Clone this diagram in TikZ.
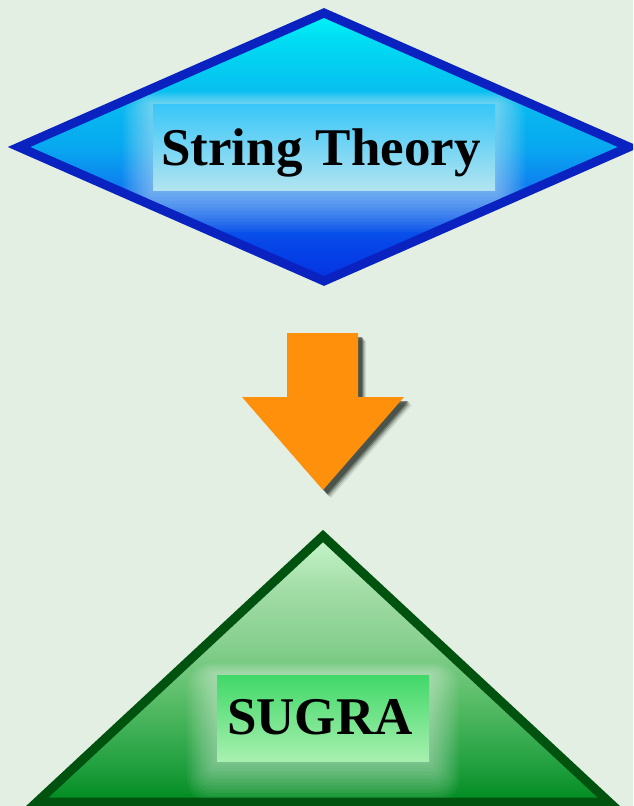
\documentclass[tikz,border=0pt]{standalone}
\usepackage{fontspec}
\setmainfont{Liberation Serif}
\usetikzlibrary{calc}
\definecolor{bg}{HTML}{E2EFE2}
\definecolor{dline}{HTML}{0A22C0}
\definecolor{tline}{HTML}{00520F}
\definecolor{arrowc}{HTML}{FF900C}
\definecolor{shadowc}{HTML}{343C34}
\definecolor{dA}{HTML}{0432E2}
\definecolor{dBc}{HTML}{0646E8}
\definecolor{dC}{HTML}{1070F0}
\definecolor{dD}{HTML}{08A8F0}
\definecolor{dE}{HTML}{08BEF0}
\definecolor{dF}{HTML}{00DCF2}
\definecolor{dG}{HTML}{00F4F8}
\definecolor{tA}{HTML}{008A20}
\definecolor{tBc}{HTML}{22A040}
\definecolor{tC}{HTML}{5CBE6A}
\definecolor{tD}{HTML}{88D090}
\definecolor{tE}{HTML}{A2DCA6}
\definecolor{tF}{HTML}{C8F6CC}
\definecolor{b1top}{HTML}{38C6F8}
\definecolor{b1bot}{HTML}{B2E4F0}
\definecolor{b2top}{HTML}{40D868}
\definecolor{b2bot}{HTML}{A8F0B0}
\pgfdeclareverticalshading{dshade}{100bp}{color(0bp)=(dA); color(25bp)=(dA); color(32bp)=(dBc); color(40bp)=(dC); color(50bp)=(dD); color(60bp)=(dE); color(70bp)=(dF); color(75bp)=(dG); color(100bp)=(dG)}
\pgfdeclareverticalshading{tshade}{100bp}{color(0bp)=(tA); color(25bp)=(tA); color(32bp)=(tBc); color(45bp)=(tC); color(55bp)=(tD); color(65bp)=(tE); color(75bp)=(tF); color(100bp)=(tF)}
\tikzset{
  labelbox/.style={rectangle, inner sep=0pt, draw=none},
  labeltext/.style={font=\fontsize{53}{60}\selectfont\bfseries, text=black, inner sep=0pt, anchor=base},
}
\def\arrowpath{(287,333) -- (358,333) -- (358,397) -- (404,397) -- (323,490) -- (242,397) -- (287,397) -- cycle}
\begin{document}
\begin{tikzpicture}[x=1pt,y=-1pt]
\fill[bg] (0,0) rectangle (633,806);
\useasboundingbox (0,0) rectangle (633,806);
\begin{scope}
\clip (0,0) rectangle (633,806);
% diamond
\coordinate (dT) at (324,13);
\coordinate (dR) at (629,147);
\coordinate (dB) at (324,281);
\coordinate (dL) at (19,147);
\shade[shading=dshade] (dT) -- (dR) -- (dB) -- (dL) -- cycle;
\begin{scope}
\clip (dT) -- (dR) -- (dB) -- (dL) -- cycle;
\foreach \i in {1,...,12} {
  \fill[white, opacity=0.045, rounded corners=2*\i pt] ($(153,104)+(-2.5*\i,-1*\i)$) rectangle ($(495,190)+(2.5*\i,3.5*\i)$);
}
\end{scope}
\draw[dline, line width=9pt, line join=miter] (dT) -- (dR) -- (dB) -- (dL) -- cycle;
\node[labelbox, minimum width=342pt, minimum height=86pt, top color=b1top, bottom color=b1bot] (box1) at (324,147) {};
\node[labeltext] (txt1) at (321,165) {String Theory};
% arrow with shadow
\foreach \s/\o in {8/0.10,7/0.15,6/0.25,5/0.4,4/0.6} {
  \begin{scope}[shift={(\s,\s)}]
  \fill[shadowc, opacity=\o] \arrowpath;
  \end{scope}
}
\fill[arrowc] \arrowpath;
\coordinate (arrowtip) at (323,490);
% triangle
\coordinate (tT) at (323,536);
\coordinate (tR) at (609,802);
\coordinate (tL) at (37,802);
\shade[shading=tshade] (tT) -- (tR) -- (tL) -- cycle;
\begin{scope}
\clip (tT) -- (tR) -- (tL) -- cycle;
\foreach \i in {1,...,12} {
  \fill[white, opacity=0.045, rounded corners=2*\i pt] ($(217,675)+(-2.5*\i,-1*\i)$) rectangle ($(429,761)+(2.5*\i,3.5*\i)$);
}
\end{scope}
\draw[tline, line width=9pt, line join=miter] (tT) -- (tR) -- (tL) -- cycle;
\node[labelbox, minimum width=212pt, minimum height=86pt, top color=b2top, bottom color=b2bot] (box2) at (323,718) {};
\node[labeltext] (txt2) at (320,734) {SUGRA};
\end{scope}
\end{tikzpicture}
\end{document}
